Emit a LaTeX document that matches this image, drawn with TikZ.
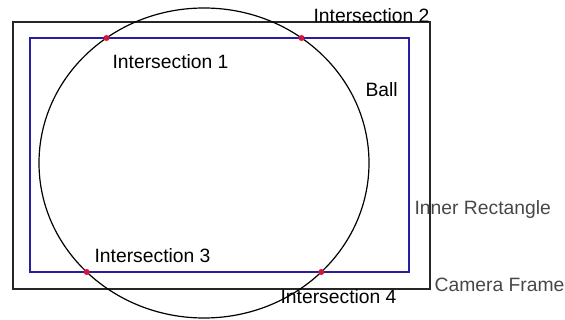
\documentclass[tikz,border=0pt]{standalone}
\usepackage{fontspec}
\setmainfont{Liberation Sans}
\usepackage{tikz}

\definecolor{rectblue}{RGB}{40,30,160}
\definecolor{dotred}{RGB}{215,20,60}

\tikzset{
  lbl/.style={anchor=west,inner sep=0pt,font=\fontsize{19.3}{21}\selectfont},
  greylbl/.style={lbl,text=black!72},
  ipt/.style={circle,fill=dotred,inner sep=0pt,minimum size=6pt},
}

\begin{document}
\begin{tikzpicture}[x=1pt,y=-1pt,line width=1.2pt]
\useasboundingbox (0,0) rectangle (565,320);
% camera frame and inner rectangle
\draw[black!85] (13,22) rectangle (430,289);
\draw[rectblue] (30,38) rectangle (409,272);
% ball
\draw[black] (204,163) ellipse [x radius=165,y radius=155];
% intersection points
\node[ipt] (p1) at (106.5,38) {};
\node[ipt] (p2) at (301.5,38) {};
\node[ipt] (p3) at (86.7,272) {};
\node[ipt] (p4) at (321.3,272) {};
% labels
\node[lbl] (l1) at (112,62) {Intersection 1};
\node[lbl] (l2) at (313,16) {Intersection 2};
\node[lbl] (l3) at (94,256) {Intersection 3};
\node[lbl] (l4) at (280,297) {Intersection 4};
\node[lbl] (ball) at (365,90) {Ball};
\node[greylbl] (inner) at (414,210) {Inner Rectangle};
\node[greylbl] (cam) at (434,285) {Camera Frame};
\end{tikzpicture}
\end{document}
